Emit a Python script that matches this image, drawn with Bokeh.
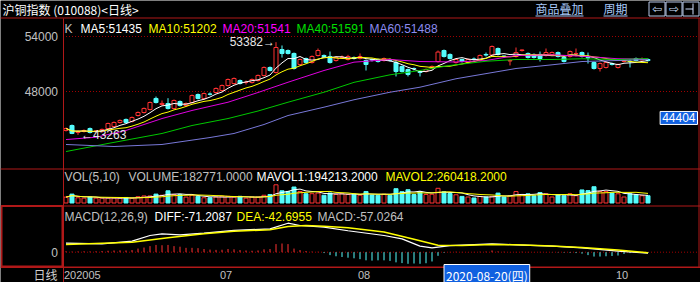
import numpy as np
import pandas as pd
from bokeh.plotting import figure
from bokeh.models import Range1d, LinearAxis, FixedTicker, Span, Label, ColumnDataSource
from bokeh.core.properties import value
from bokeh.embed import file_html
from bokeh.resources import INLINE

# ---------------- data ----------------
opens = [43750, 44290, 43530, 43640, 43960, 43640, 43640, 43960, 44180, 44620,
         44950, 44730, 45380, 45710, 46040, 47240, 46580, 46690, 46150, 46910,
         46470, 46800, 47670, 47240, 47720, 47890, 48110, 48650, 48870, 49200,
         48980, 48980, 49200, 49750, 50620, 50070, 52580, 52470, 52150, 50950,
         51600, 51160, 51930, 51930, 51820, 51380, 51710, 51490, 51710, 51600,
         51380, 51490, 51490, 51380, 51440, 51160, 50730, 50400, 50510, 50180,
         50180, 50510, 51270, 52470, 52040, 51160, 51490, 51160, 51550, 51380,
         52040, 51980, 52690, 51870, 51330, 51820, 52470, 52150, 52040, 52040,
         51930, 52040, 52250, 51710, 51820, 52120, 52250, 51710, 51160, 50510,
         50620, 51050, 50620, 51270, 51300, 51600, 51440, 51490]
highs = [44070, 44400, 43750, 43860, 44070, 43800, 43960, 44600, 44730, 44950,
         45050, 45270, 45820, 46250, 46910, 47450, 47020, 47270, 47130, 47020,
         46800, 47670, 47780, 47890, 47900, 48440, 48760, 49420, 49530, 49310,
         49200, 49420, 49850, 50730, 50730, 53382, 53020, 52580, 52250, 51600,
         51700, 51930, 52690, 52040, 52360, 51820, 51930, 52000, 51820, 52150,
         51490, 51600, 51600, 51710, 51600, 51380, 50840, 50510, 50620, 50290,
         50510, 50840, 52470, 52580, 52150, 51600, 51600, 51600, 51710, 52040,
         52250, 53020, 52800, 51930, 51490, 52800, 52580, 52250, 52150, 52360,
         52690, 52360, 52360, 51820, 52470, 52690, 52360, 52250, 51270, 51160,
         51270, 51160, 51050, 51380, 51490, 51710, 51710, 51600]
lows = [43640, 43350, 43263, 43530, 43420, 43530, 43530, 43860, 44070, 44510,
        44510, 44620, 45270, 45600, 45930, 46690, 46470, 46040, 46040, 46360,
        46360, 46690, 47130, 47130, 47560, 47780, 48000, 48550, 48760, 48760,
        48760, 48870, 49090, 49640, 50180, 49960, 51700, 52040, 50400, 50840,
        51050, 51050, 51820, 51710, 51050, 51270, 51600, 51380, 51490, 51490,
        50290, 51270, 51160, 51270, 51270, 49640, 50070, 49640, 50290, 49640,
        50070, 50400, 51160, 51710, 51490, 51050, 51160, 51050, 51380, 51270,
        51820, 51870, 51930, 51710, 50840, 51710, 52360, 51600, 51600, 51270,
        51820, 51930, 51710, 51160, 51710, 51820, 51710, 51050, 50400, 50180,
        50510, 50840, 50510, 51160, 50620, 51270, 51380, 51270]
closes = [43960, 43420, 43640, 43750, 43530, 43700, 43860, 44510, 44620, 44840,
          44620, 45160, 45710, 46150, 46800, 46800, 46700, 46150, 47020, 46470,
          46690, 47560, 47240, 47780, 47700, 48330, 48650, 49310, 49420, 48870,
          49000, 49310, 49750, 50620, 50290, 52800, 52150, 52150, 50510, 51490,
          51160, 51820, 52470, 51820, 51160, 51710, 51750, 51820, 51600, 51820,
          50950, 51440, 51270, 51600, 51400, 50180, 50180, 49860, 50480, 50070,
          50400, 50730, 52300, 51820, 51600, 51490, 51270, 51490, 51490, 51930,
          51980, 52910, 52040, 51820, 51380, 52250, 52530, 51710, 51710, 51600,
          52250, 52250, 51820, 51270, 52360, 52150, 51820, 51660, 50510, 51050,
          51160, 50950, 50950, 51300, 51270, 51380, 51490, 51380]
volumes = [149000, 224000, 132000, 122000, 149000, 122000, 122000, 122000, 122000, 122000,
           139000, 122000, 158000, 178000, 178000, 224000, 195000, 307000, 214000, 214000,
           149000, 195000, 168000, 132000, 132000, 149000, 168000, 168000, 149000, 168000,
           122000, 149000, 149000, 195000, 214000, 458000, 307000, 290000, 402000, 290000,
           234000, 234000, 251000, 195000, 251000, 214000, 234000, 214000, 220000, 195000,
           290000, 200000, 195000, 220000, 195000, 360000, 285000, 335000, 214000, 290000,
           214000, 220000, 370000, 280000, 240000, 207000, 166000, 151000, 127000, 166000,
           151000, 166000, 249000, 151000, 183000, 288000, 207000, 232000, 183000, 263000,
           232000, 151000, 207000, 183000, 232000, 183000, 329000, 312000, 409000, 288000,
           288000, 249000, 232000, 151000, 232000, 207000, 183000, 182771]
macd_hist = [60, 40, 50, 60, 50, 60, 80, 100, 120, 130,
             120, 150, 250, 320, 420, 500, 480, 500, 420, 380,
             300, 300, 280, 220, 180, 160, 170, 220, 200, 150,
             120, 100, 120, 200, 220, 560, 600, 560, 250, 150,
             80, 40, 30, -60, -200, -280, -330, -380, -420, -480,
             -560, -580, -560, -560, -600, -700, -750, -800, -780, -800,
             -760, -640, -250, -40, 20, 30, 20, 10, 20, 30,
             40, 120, 50, 30, 10, 20, 30, 20, 10, 20,
             10, -10, -20, -30, -40, -60, -100, -200, -300, -300,
             -280, -260, -230, -120, -60, -40, -50, -57]
diff_idx = [0, 6, 11, 14, 16, 19, 23, 28, 34, 37, 39, 43, 47, 53, 56, 59, 61, 64, 71, 75, 81, 86, 92, 97]
diff_val = [620, 580, 760, 1150, 1270, 1200, 1310, 1500, 1610, 2000, 1840, 1725, 1480, 1150, 920, 420, 300, 460, 580, 510, 415, 300, 70, -71]
dea_idx = [0, 11, 17, 23, 28, 34, 37, 40, 43, 47, 53, 58, 62, 66, 71, 75, 81, 86, 92, 97]
dea_val = [530, 690, 990, 1270, 1450, 1545, 1770, 1840, 1790, 1680, 1400, 900, 480, 460, 530, 510, 420, 330, 150, -43]
ma20_idx = [0, 5, 10, 16, 21, 27, 32, 37, 43, 48, 54, 59, 65, 70, 75, 81, 86, 92, 97]
ma20_val = [42760, 43010, 43750, 45050, 45930, 46830, 47890, 49010, 50290, 51200, 51490, 51270, 51220, 51380, 51930, 52000, 51850, 51570, 51541]
ma40_idx = [0, 7, 16, 21, 27, 32, 37, 43, 48, 54, 59, 64, 70, 75, 81, 86, 92, 97]
ma40_val = [41450, 42330, 43420, 44290, 45050, 45870, 46830, 47920, 49000, 49820, 50290, 50840, 51300, 51490, 51490, 51570, 51490, 51591]
ma60_idx = [0, 8, 16, 24, 28, 33, 37, 43, 48, 54, 59, 65, 75, 81, 86, 92, 97]
ma60_val = [42220, 42000, 42220, 42980, 43420, 44400, 45380, 46290, 47100, 47920, 48470, 49390, 50510, 50910, 51270, 51380, 51488]

price_ticks = [48000, 54000]
macd_ticks = [0]
date_tick_idx = [0, 26, 49, 92]
date_tick_labels = ["202005", "07", "08", "10"]
cursor_idx = 62
cursor_date = "2020-08-20(四)"
cursor_price = 44404

title_text = "沪铜指数 (010088)<日线>"
k_legend = [("K", "#c0c0c0"), ("MA5:51435", "#ffffff"), ("MA10:51202", "#ffff00"),
            ("MA20:51541", "#ff00ff"), ("MA40:51591", "#00e000"), ("MA60:51488", "#8c8cf0")]
vol_legend = [("VOL(5,10)", "#c0c0c0"), ("VOLUME:182771.0000", "#c0c0c0"),
              ("MAVOL1:194213.2000", "#ffffff"), ("MAVOL2:260418.2000", "#ffff00")]
macd_legend = [("MACD(12,26,9)", "#c0c0c0"), ("DIFF:-71.2087", "#ffffff"),
               ("DEA:-42.6955", "#ffff00"), ("MACD:-57.0264", "#c0c0c0")]

# ---------------- layout constants ----------------
W, H = 700, 282
X0, DX = 65.5, 6.0            # pixel of first bar, pixels per bar
RED = "#b01818"
GRID = "#a00000"
GRAY = "#c0c0c0"
UP = "#ff3232"
DOWN = "#54fcfc"
LINK = "#a8c8f8"
BLUE = "#1060e0"
FONT = "Liberation Sans"
CJK = "Noto Sans CJK SC"


def xd(px):
    return (px - X0) / DX


def band(v1, p1, v2, p2):
    k = (v2 - v1) / (p2 - p1)
    return Range1d(start=v1 + (H - p1) * k, end=v1 - p1 * k)


price_rng = band(54000, 36, 48000, 91)
vol_rng = band(0, 202.5, 458000, 184.3)
macd_rng = band(0, 251.7, 2000, 222.7)


def at(rng, py):
    return rng.end + (rng.start - rng.end) * py / H


def py_(py):
    return at(price_rng, py)


p = figure(width=W, height=H, x_range=Range1d(xd(0), xd(W)), y_range=price_rng,
           x_axis_type=None, y_axis_type=None, toolbar_location=None,
           output_backend="svg", min_border=0, background_fill_color="black",
           border_fill_color="black", outline_line_color=None)
p.extra_y_ranges = {"vol": vol_rng, "macd": macd_rng}

n = len(closes)
idx = np.arange(n)
o = np.array(opens, float)
c = np.array(closes, float)
up = c >= o
col = np.where(up, UP, DOWN)
fill = np.where(up, "black", DOWN)
src = ColumnDataSource(dict(x=idx, o=o, h=highs, l=lows, c=c,
                            top=np.maximum(o, c), bot=np.minimum(o, c),
                            col=col, fill=fill, vol=volumes))

# grid lines
p.segment(x0=xd(62.5), x1=xd(698), y0=price_ticks, y1=price_ticks,
          line_color=GRID, line_dash="1 2", line_width=1)
p.segment(x0=xd(62.5), x1=xd(698), y0=macd_ticks, y1=macd_ticks,
          line_color=GRID, line_dash="1 2", line_width=1, y_range_name="macd")

# candles
p.segment("x", "l", "x", "h", source=src, line_color="col", line_width=1)
p.vbar(x="x", width=0.67, top="top", bottom="bot", source=src,
       fill_color="fill", line_color="col", line_width=1)

cs = pd.Series(closes, dtype=float)
p.line(idx, cs.rolling(5, min_periods=1).mean(), line_color="#ffffff", line_width=1)
p.line(idx, cs.rolling(10, min_periods=1).mean(), line_color="#ffff00", line_width=1)
p.line(ma20_idx, ma20_val, line_color="#e000e0", line_width=1)
p.line(ma40_idx, ma40_val, line_color="#00c800", line_width=1)
p.line(ma60_idx, ma60_val, line_color="#7878d8", line_width=1)

hi_i = int(np.argmax(highs))
lo_i = int(np.argmin(lows))
p.text(x=[hi_i], y=[highs[hi_i]], text=[f"{highs[hi_i]}→"], text_align="right",
       text_baseline="middle", text_color="#e8e8e8", text_font=value(FONT),
       text_font_size="12px", x_offset=-1)
p.text(x=[lo_i], y=[lows[lo_i]], text=[f"←{lows[lo_i]}"], text_align="left",
       text_baseline="middle", text_color="#e8e8e8", text_font=value(FONT),
       text_font_size="12px", x_offset=3)

# volume
p.vbar(x="x", width=0.67, top="vol", bottom=0, source=src, fill_color="fill",
       line_color="col", line_width=1, y_range_name="vol")
vs = pd.Series(volumes, dtype=float)
p.line(idx, vs.rolling(5, min_periods=1).mean(), line_color="#ffffff", line_width=1, y_range_name="vol")
p.line(idx, vs.rolling(10, min_periods=1).mean(), line_color="#ffff00", line_width=1, y_range_name="vol")

# MACD
mh = np.array(macd_hist, float)
msrc = ColumnDataSource(dict(x=idx, m=mh, z=np.zeros(n), col=np.where(mh >= 0, UP, DOWN)))
p.segment("x", "z", "x", "m", source=msrc, line_color="col", line_width=1, y_range_name="macd")
p.line(diff_idx, diff_val, line_color="#ffffff", line_width=1.2, y_range_name="macd")
p.line(dea_idx, dea_val, line_color="#ffff00", line_width=1.5, y_range_name="macd")

# panel separators / frames
for yy in (17.5, 168.5, 205.5, 266.5):
    p.add_layout(Span(location=py_(yy), dimension="width", line_color=RED, line_width=1))
p.segment(x0=xd(698.5), x1=xd(698.5), y0=py_(17.5), y1=py_(266.5), line_color=RED, line_width=1)
p.quad(left=xd(1), right=xd(62), top=py_(205.5), bottom=py_(266), fill_color=None,
       line_color=RED, line_width=2)

# axes
ax_kw = dict(major_tick_line_color=None, minor_tick_line_color=None, major_tick_out=0,
             major_tick_in=0, major_label_text_color=GRAY, major_label_text_font=FONT,
             major_label_text_font_size="12px", axis_line_color=RED, axis_line_width=1)
yax = LinearAxis(fixed_location=xd(62.5), ticker=FixedTicker(ticks=price_ticks),
                 bounds=(py_(282), py_(17.5)), major_label_standoff=5, **ax_kw)
p.add_layout(yax, "left")
max_ = LinearAxis(fixed_location=xd(62.5), ticker=FixedTicker(ticks=macd_ticks),
                  y_range_name="macd", bounds=(at(macd_rng, 266), at(macd_rng, 205.5)),
                  major_label_standoff=5, **ax_kw)
p.add_layout(max_, "left")
xkw = dict(ax_kw)
xkw["major_label_text_color"] = None
xax = LinearAxis(fixed_location=py_(266.5), ticker=FixedTicker(ticks=date_tick_idx), **xkw)
p.add_layout(xax, "below")
# date tick labels, left-aligned at their bars
p.text(x=date_tick_idx, y=py_(274.5), text=date_tick_labels, text_align="left",
       text_baseline="middle", text_color=GRAY, text_font=value(FONT),
       text_font_size="11px", x_offset=-2)


def lab(text, px, py, color, size=12, align="left", font=FONT, **kw):
    p.add_layout(Label(x=px, y=H - py, x_units="screen", y_units="screen", text=text,
                       text_color=color, text_font=font, text_font_size=f"{size}px",
                       text_align=align, text_baseline="middle", **kw))


# legends
for (t, cl), x in zip(k_legend, [64, 80, 148, 222, 296, 369]):
    lab(t, x, 28, cl)
for (t, cl), x in zip(vol_legend, [64, 128, 256, 385]):
    lab(t, x, 176, cl)
for (t, cl), x in zip(macd_legend, [64, 154, 236, 317]):
    lab(t, x, 216, cl)

# title bar
lab(title_text, 2, 9, "#ffffff", size=12, font=CJK)
lab("商品叠加", 535, 8, LINK, size=12, font=CJK)
lab("周期", 603, 8, LINK, size=12, font=CJK)
p.segment(x0=[xd(535), xd(603)], x1=[xd(583), xd(627)], y0=py_(15.5), y1=py_(15.5),
          line_color=LINK, line_width=1)
p.quad(left=[xd(648.5), xd(665.5), xd(682.5)], right=[xd(664.5), xd(681.5), xd(698.5)],
       top=py_(1.5), bottom=py_(15.5), fill_color=None, line_color="#b8c8e8", line_width=1)
lab("⇦", 656.5, 8.5, "#d0e0ff", size=12, align="center", font="DejaVu Sans")
lab("⇨", 673.5, 8.5, "#d0e0ff", size=12, align="center", font="DejaVu Sans")
p.segment(x0=[xd(692.5), xd(685)], x1=[xd(692.5), xd(692.5)], y0=[py_(3), py_(8.5)],
          y1=[py_(14), py_(8.5)], line_color="#d0e0ff", line_width=1)

# bottom row
lab("日线", 57, 274, "#d0d0d0", size=12, align="right", font=CJK)
p.add_layout(Label(x=cursor_idx, y=H - 274.5, y_units="screen", x_offset=6, text=cursor_date,
                   text_color="#ffffff", text_font=CJK, text_font_size="12px",
                   text_align="left", text_baseline="middle", background_fill_color=BLUE,
                   border_line_color="#ffffff", padding=2))
p.add_layout(Label(x=697, y=cursor_price, x_units="screen", text=f"{cursor_price}",
                   text_color="#ffffff", text_font=FONT, text_font_size="12px",
                   text_align="right", text_baseline="bottom", background_fill_color=BLUE,
                   border_line_color="#ffffff", padding=2))

open("out.html", "w").write(file_html(p, INLINE))
